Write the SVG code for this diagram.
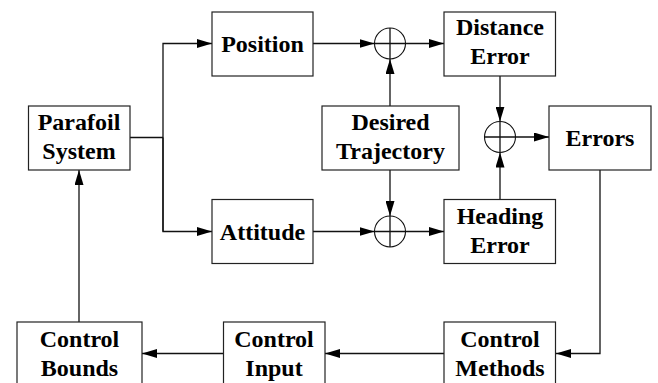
<svg xmlns="http://www.w3.org/2000/svg" width="658" height="383" viewBox="0 0 658 383">
<style>
.box{fill:#fff;stroke:#222;stroke-width:1.2}
.t{font-family:'Liberation Serif','DejaVu Serif',serif;font-weight:700;font-size:24px;text-anchor:middle;fill:#000}
.ln{fill:none;stroke:#111;stroke-width:1.3}
.sum{fill:#fff;stroke:#111;stroke-width:1.1}
</style>
<defs>
<marker id="ah" viewBox="0 0 15 9" refX="15" refY="4.5" markerWidth="15" markerHeight="9" markerUnits="userSpaceOnUse" orient="auto">
<path d="M0,0 L15,4.5 L0,9 Z" fill="#000"/>
</marker>
</defs>
<rect width="658" height="383" fill="#fff"/>
<g id="connectors">
<path class="ln" d="M130,137.5 H163"/>
<path class="ln" d="M163,231.5 V43.5 H212" marker-end="url(#ah)"/>
<path class="ln" d="M163,137.5 V231.5 H212" marker-end="url(#ah)"/>
<path class="ln" d="M313,43.5 H374.5" marker-end="url(#ah)"/>
<path class="ln" d="M405.5,43.5 H444" marker-end="url(#ah)"/>
<path class="ln" d="M390,106 V59" marker-end="url(#ah)"/>
<path class="ln" d="M390,170 V216" marker-end="url(#ah)"/>
<path class="ln" d="M313,231.5 H374.5" marker-end="url(#ah)"/>
<path class="ln" d="M405.5,231.5 H444" marker-end="url(#ah)"/>
<path class="ln" d="M500,76 V121.5" marker-end="url(#ah)"/>
<path class="ln" d="M500,199 V152.5" marker-end="url(#ah)"/>
<path class="ln" d="M515.5,137 H549" marker-end="url(#ah)"/>
<path class="ln" d="M600,170 V353.5 H556" marker-end="url(#ah)"/>
<path class="ln" d="M444,353.5 H325" marker-end="url(#ah)"/>
<path class="ln" d="M223,353.5 H142" marker-end="url(#ah)"/>
<path class="ln" d="M79,322 V170" marker-end="url(#ah)"/>
</g>
<g id="parafoil"><rect class="box" x="28.5" y="106" width="101.5" height="64"/><text class="t" font-family="Liberation Serif, serif" x="79" y="130">Parafoil</text><text class="t" font-family="Liberation Serif, serif" x="79" y="159">System</text></g>
<g id="position"><rect class="box" x="212" y="12" width="101" height="64"/><text class="t" x="262.5" y="52">Position</text></g>
<g id="attitude"><rect class="box" x="212" y="199.5" width="101" height="64"/><text class="t" x="262.5" y="240">Attitude</text></g>
<g id="desired"><rect class="box" x="322" y="106" width="137" height="64"/><text class="t" x="390.5" y="130">Desired</text><text class="t" x="390.5" y="159">Trajectory</text></g>
<g id="distance"><rect class="box" x="444" y="12" width="111.5" height="64"/><text class="t" x="500" y="35">Distance</text><text class="t" x="500" y="64">Error</text></g>
<g id="heading"><rect class="box" x="444" y="199.5" width="111.5" height="64"/><text class="t" x="500" y="223.5">Heading</text><text class="t" x="500" y="252.5">Error</text></g>
<g id="errors"><rect class="box" x="549" y="106" width="102" height="64"/><text class="t" x="600" y="146">Errors</text></g>
<g id="methods"><rect class="box" x="444" y="322" width="111.5" height="64"/><text class="t" x="500" y="346.5">Control</text><text class="t" x="500" y="375.5">Methods</text></g>
<g id="input"><rect class="box" x="223.5" y="322" width="101.5" height="64"/><text class="t" x="274" y="346.5">Control</text><text class="t" x="274" y="375.5">Input</text></g>
<g id="bounds"><rect class="box" x="17" y="322" width="125" height="64"/><text class="t" x="79.5" y="346.5">Control</text><text class="t" x="79.5" y="375.5">Bounds</text></g>
<g id="sum1"><circle class="sum" cx="390" cy="43.5" r="15.5"/><path class="ln" stroke-width="0.8" d="M374.5,43.5 H405.5 M390,28 V59"/></g>
<g id="sum2"><circle class="sum" cx="500" cy="137" r="15.5"/><path class="ln" stroke-width="0.8" d="M484.5,137 H515.5 M500,121.5 V152.5"/></g>
<g id="sum3"><circle class="sum" cx="390" cy="231.5" r="15.5"/><path class="ln" stroke-width="0.8" d="M374.5,231.5 H405.5 M390,216 V247"/></g>
</svg>
